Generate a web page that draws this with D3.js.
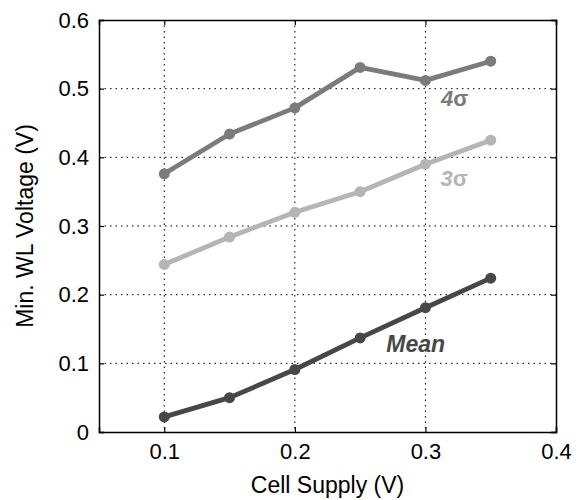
<!DOCTYPE html>
<html>
<head>
<meta charset="utf-8">
<script src="https://cdn.jsdelivr.net/npm/d3@7"></script>
<style>
  body { margin: 0; background: #fff; }
  svg { font-family: "Liberation Sans", Arial, sans-serif; }
</style>
</head>
<body>
<div id="chart"></div>
<script>
// valeurs
const supply = [0.1, 0.15, 0.2, 0.25, 0.3, 0.35];
const sigma4 = [0.376, 0.434, 0.472, 0.531, 0.512, 0.540];
const sigma3 = [0.244, 0.284, 0.320, 0.350, 0.390, 0.425];
const mean = [0.022, 0.050, 0.091, 0.137, 0.181, 0.224];
const xTicks = [0.1, 0.2, 0.3, 0.4];
const yTicks = [0, 0.1, 0.2, 0.3, 0.4, 0.5, 0.6];

const series = [
    { name: "4", sym: "σ", values: sigma4, color: "#7b7b7b", lx: 0.312, ly: 0.4745 },
    { name: "3", sym: "σ", values: sigma3, color: "#b5b5b5", lx: 0.3115, ly: 0.358 },
    { name: "Mean", sym: "", values: mean, color: "#474747", lx: 0.270, ly: 0.1165 }
];

const margin = { top: 20, right: 27, bottom: 68, left: 99 };
const W = 583, H = 500;
const width = W - margin.left - margin.right;
const height = H - margin.top - margin.bottom;

const svg = d3.select("#chart")
    .append("svg")
    .attr("width", W)
    .attr("height", H)
    .append("g")
    .attr("transform", `translate(${margin.left},${margin.top})`);

const x = d3.scaleLinear().domain([0.05, 0.4]).range([0, width]);
const y = d3.scaleLinear().domain([0, 0.6]).range([height, 0]);

// grille pointillée
svg.append("g")
    .selectAll("line")
    .data(xTicks.filter(d => d < 0.4))
    .join("line")
    .attr("x1", d => x(d)).attr("x2", d => x(d))
    .attr("y1", 0).attr("y2", height)
    .attr("stroke", "#000").attr("stroke-width", 1)
    .attr("stroke-dasharray", "1.5,4");

svg.append("g")
    .selectAll("line")
    .data(yTicks.filter(d => d > 0 && d < 0.6))
    .join("line")
    .attr("x1", 0).attr("x2", width)
    .attr("y1", d => y(d)).attr("y2", d => y(d))
    .attr("stroke", "#000").attr("stroke-width", 1)
    .attr("stroke-dasharray", "1.5,4");

// axes (ticks vers l'intérieur)
svg.append("g")
    .attr("transform", `translate(0,${height})`)
    .call(d3.axisBottom(x).tickValues(xTicks).tickSize(-5).tickPadding(11).tickFormat(d3.format(".1f")));
svg.append("g")
    .call(d3.axisLeft(y).tickValues(yTicks).tickSize(-5).tickPadding(10).tickFormat(d => d === 0 ? "0" : d3.format(".1f")(d)));
svg.append("g")
    .call(d3.axisTop(x).tickValues(xTicks).tickSize(-5).tickFormat(""));
svg.append("g")
    .attr("transform", `translate(${width},0)`)
    .call(d3.axisRight(y).tickValues(yTicks).tickSize(-5).tickFormat(""));

svg.selectAll(".domain").attr("stroke", "#000").attr("stroke-width", 1.5);
svg.selectAll(".tick line").attr("stroke", "#000").attr("stroke-width", 1.2);
svg.selectAll(".tick text")
    .attr("fill", "#000")
    .style("font-size", "22px")
    .style("font-family", "'Liberation Sans', Arial, sans-serif");

// courbes
const line = d3.line()
    .x((d, i) => x(supply[i]))
    .y(d => y(d));

series.forEach(s => {
    svg.append("path")
        .datum(s.values)
        .attr("d", line)
        .attr("fill", "none")
        .attr("stroke", s.color)
        .attr("stroke-width", 4.8)
        .attr("stroke-linejoin", "round");

    svg.append("g")
        .selectAll("circle")
        .data(s.values)
        .join("circle")
        .attr("cx", (d, i) => x(supply[i]))
        .attr("cy", d => y(d))
        .attr("r", 5.5)
        .attr("fill", s.color);

    const label = svg.append("text")
        .attr("x", x(s.lx))
        .attr("y", y(s.ly))
        .style("font-size", s.name === "Mean" ? "23px" : "22px")
        .attr("font-weight", "bold")
        .attr("fill", s.color);
    label.append("tspan").attr("font-style", "italic").text(s.name);
    if (s.sym) label.append("tspan").attr("font-style", "normal").text(s.sym);
});

// titres des axes
svg.append("text")
    .attr("x", width / 2)
    .attr("y", height + 61)
    .attr("text-anchor", "middle")
    .style("font-size", "23px")
    .text("Cell Supply (V)");

svg.append("text")
    .attr("x", -height / 2)
    .attr("y", -66)
    .attr("text-anchor", "middle")
    .attr("transform", "rotate(-90)")
    .style("font-size", "23px")
    .text("Min. WL Voltage (V)");
</script>
</body>
</html>
